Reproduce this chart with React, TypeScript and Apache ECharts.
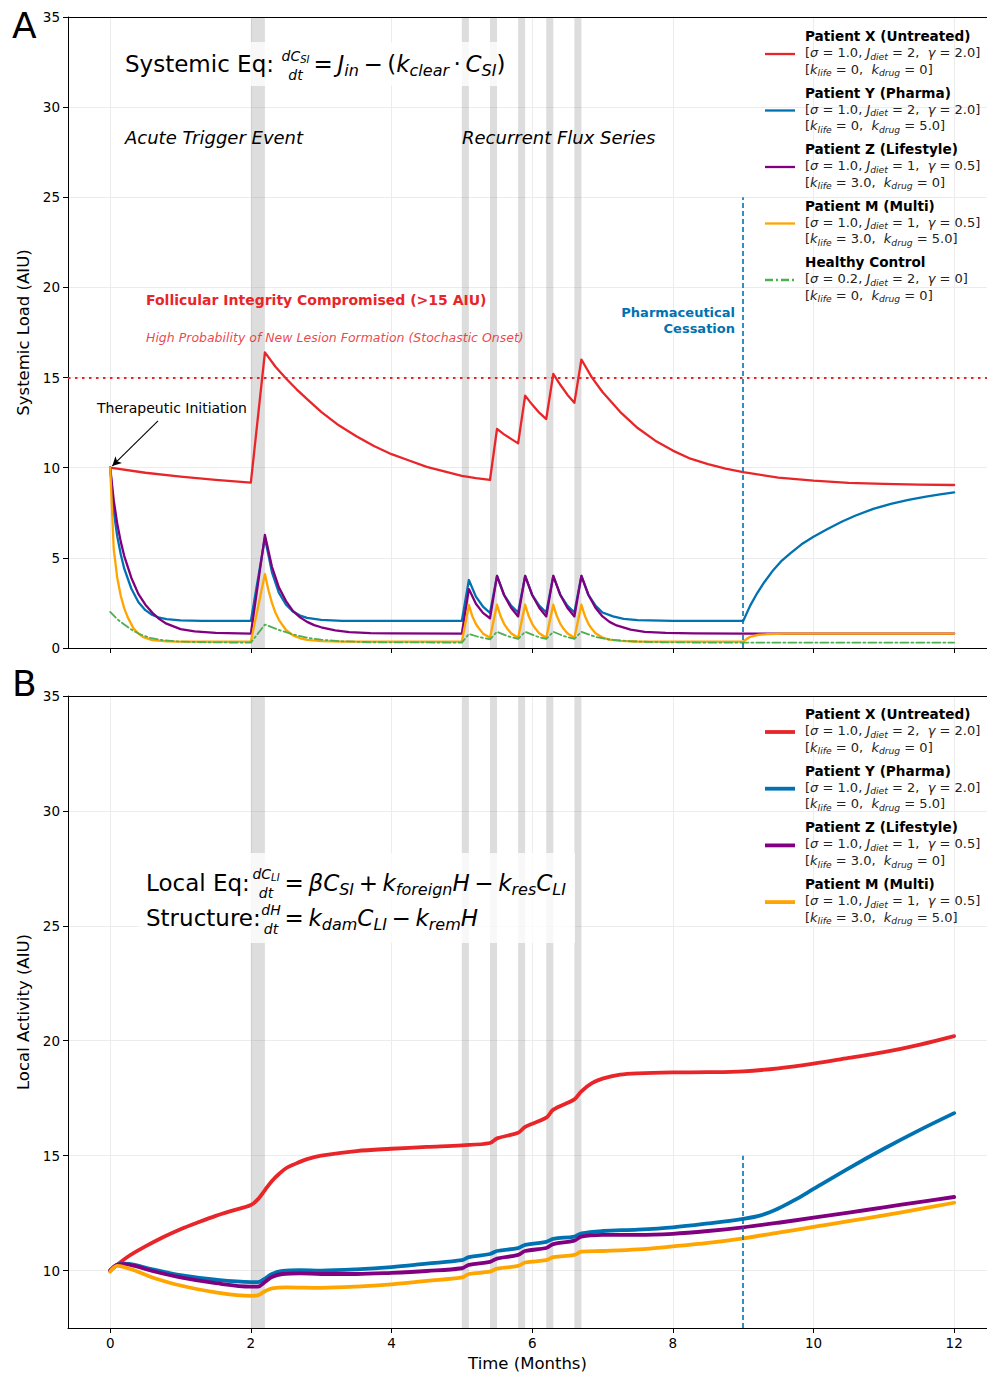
import React, { useEffect, useRef } from 'react';
import * as echarts from 'echarts';

const FONT = 'DejaVu Sans';
const TS = '\u2009';

// ---- axes / annotations ----
const xMin = -0.6;
const xMax = 12.467;
const xTicks = [0, 2, 4, 6, 8, 10, 12];
const yTicksTop = [0, 5, 10, 15, 20, 25, 30, 35];
const yTicksBottom = [10, 15, 20, 25, 30, 35];
const bands: [number, number][] = [[2.0, 2.2], [5.0, 5.1], [5.4, 5.5], [5.8, 5.9], [6.2, 6.3], [6.6, 6.7]];
const threshold = 15;
const cessationT = 9;

// ---- colours ----
const cRed = '#e8262a';
const cBlue = '#0072b2';
const cPurple = '#800080';
const cOrange = '#ffa500';
const cGreen = '#4caf50';

// ---- Panel A: systemic load ----
const sysX: [number, number][] = [
  [0, 10], [0.5, 9.72], [1, 9.5], [1.5, 9.32], [2, 9.17],
  [2.2, 16.4], [2.35, 15.6], [2.5, 14.95], [2.65, 14.35], [2.8, 13.8], [3.0, 13.1], [3.25, 12.35], [3.5, 11.75],
  [3.75, 11.2], [4.0, 10.75], [4.25, 10.4], [4.5, 10.05], [4.75, 9.8], [5.0, 9.55], [5.2, 9.42], [5.4, 9.32],
  [5.5, 12.15], [5.6, 11.85], [5.7, 11.6], [5.8, 11.35],
  [5.9, 14.0], [6.0, 13.5], [6.1, 13.05], [6.2, 12.7],
  [6.3, 15.2], [6.4, 14.6], [6.5, 14.05], [6.6, 13.6],
  [6.7, 16.0], [6.85, 15.0], [7.0, 14.2], [7.25, 13.1], [7.5, 12.2], [7.75, 11.5], [8.0, 10.95], [8.25, 10.5],
  [8.5, 10.2], [8.75, 9.95], [9.0, 9.75], [9.5, 9.45], [10, 9.28], [10.5, 9.16], [11, 9.1], [11.5, 9.06], [12, 9.04],
];
const sysY: [number, number][] = [
  [0, 10], [0.05, 7.6], [0.1, 6.2], [0.15, 5.2], [0.2, 4.4], [0.3, 3.3], [0.4, 2.55], [0.5, 2.1], [0.6, 1.83],
  [0.7, 1.68], [0.8, 1.6], [1, 1.53], [1.3, 1.5], [2, 1.5],
  [2.2, 6.1], [2.3, 4.2], [2.4, 3.05], [2.5, 2.4], [2.6, 2.02], [2.7, 1.8], [2.8, 1.67], [3.0, 1.56], [3.3, 1.51], [5.0, 1.5],
  [5.1, 3.77], [5.2, 2.85], [5.3, 2.3], [5.4, 1.95],
  [5.5, 4.0], [5.6, 2.95], [5.7, 2.35], [5.8, 1.97],
  [5.9, 4.0], [6.0, 2.95], [6.1, 2.35], [6.2, 1.97],
  [6.3, 4.0], [6.4, 2.95], [6.5, 2.35], [6.6, 1.97],
  [6.7, 4.0], [6.8, 2.95], [6.9, 2.35], [7.0, 1.97], [7.15, 1.75], [7.3, 1.62], [7.5, 1.55], [8, 1.51], [9, 1.5],
  [9.1, 2.35], [9.2, 3.05], [9.3, 3.65], [9.43, 4.33], [9.55, 4.85], [9.67, 5.25], [9.83, 5.75], [10, 6.17],
  [10.2, 6.6], [10.4, 7.0], [10.6, 7.35], [10.85, 7.72], [11.1, 8.0], [11.35, 8.22], [11.6, 8.4], [11.8, 8.52], [12, 8.63],
];
const sysZ: [number, number][] = [
  [0, 10], [0.05, 8.2], [0.1, 6.9], [0.15, 5.9], [0.2, 5.1], [0.3, 3.9], [0.4, 3.0], [0.5, 2.4], [0.6, 1.95],
  [0.7, 1.6], [0.8, 1.35], [1, 1.05], [1.2, 0.92], [1.5, 0.84], [2, 0.8],
  [2.2, 6.27], [2.3, 4.5], [2.4, 3.35], [2.5, 2.6], [2.6, 2.05], [2.7, 1.7], [2.8, 1.45], [2.9, 1.27], [3.0, 1.15],
  [3.2, 0.98], [3.4, 0.88], [3.7, 0.83], [4.0, 0.81], [5.0, 0.8],
  [5.1, 3.27], [5.2, 2.45], [5.3, 1.95], [5.4, 1.65],
  [5.5, 4.0], [5.6, 2.94], [5.7, 2.23], [5.8, 1.75],
  [5.9, 4.0], [6.0, 2.94], [6.1, 2.23], [6.2, 1.75],
  [6.3, 4.0], [6.4, 2.94], [6.5, 2.23], [6.6, 1.75],
  [6.7, 4.0], [6.8, 2.94], [6.9, 2.23], [7.0, 1.75], [7.1, 1.45], [7.2, 1.25], [7.4, 1.02], [7.6, 0.9],
  [7.9, 0.84], [8.3, 0.81], [9, 0.8], [12, 0.8],
];
const sysM: [number, number][] = [
  [0, 10], [0.05, 5.5], [0.1, 3.9], [0.15, 2.9], [0.2, 2.2], [0.25, 1.7], [0.33, 1.1], [0.4, 0.8], [0.47, 0.6],
  [0.6, 0.44], [0.8, 0.37], [1, 0.35], [2, 0.35],
  [2.2, 4.1], [2.25, 3.2], [2.3, 2.5], [2.35, 1.95], [2.4, 1.55], [2.5, 1.0], [2.6, 0.7], [2.7, 0.54], [2.8, 0.45],
  [3.0, 0.38], [3.3, 0.35], [5.0, 0.35],
  [5.1, 2.38], [5.15, 1.75], [5.2, 1.33], [5.25, 1.05], [5.3, 0.81], [5.4, 0.57],
  [5.5, 2.4], [5.55, 1.77], [5.6, 1.34], [5.65, 1.05], [5.7, 0.82], [5.8, 0.57],
  [5.9, 2.4], [5.95, 1.77], [6.0, 1.34], [6.05, 1.05], [6.1, 0.82], [6.2, 0.57],
  [6.3, 2.4], [6.35, 1.77], [6.4, 1.34], [6.45, 1.05], [6.5, 0.82], [6.6, 0.57],
  [6.7, 2.4], [6.75, 1.77], [6.8, 1.34], [6.85, 1.05], [6.9, 0.82], [7.0, 0.58], [7.1, 0.47], [7.25, 0.4],
  [7.5, 0.36], [8, 0.35], [9, 0.35], [9.05, 0.5], [9.1, 0.62], [9.2, 0.72], [9.35, 0.77], [9.6, 0.8], [12, 0.8],
];
const sysH: [number, number][] = [
  [0, 2.0], [0.1, 1.6], [0.2, 1.3], [0.33, 0.95], [0.45, 0.72], [0.57, 0.56], [0.75, 0.43], [1.0, 0.35], [1.5, 0.31],
  [2.0, 0.3], [2.2, 1.3], [2.4, 1.0], [2.6, 0.75], [2.8, 0.57], [3.0, 0.46], [3.3, 0.37], [3.7, 0.32], [5.0, 0.3],
  [5.1, 0.78], [5.25, 0.6], [5.4, 0.48], [5.5, 0.9], [5.65, 0.66], [5.8, 0.5], [5.9, 0.9], [6.05, 0.66], [6.2, 0.5],
  [6.3, 0.9], [6.45, 0.66], [6.6, 0.5], [6.7, 0.9], [6.9, 0.62], [7.1, 0.47], [7.4, 0.37], [7.8, 0.32], [8.5, 0.3], [12, 0.3],
];

// ---- Panel B: local activity ----
const locX: [number, number][] = [
  [0, 10.0], [0.25, 10.6], [0.5, 11.05], [0.75, 11.45], [1, 11.8], [1.25, 12.1], [1.5, 12.38], [1.75, 12.62], [2, 12.85],
  [2.1, 13.1], [2.2, 13.5], [2.3, 13.9], [2.4, 14.2], [2.5, 14.45], [2.6, 14.6], [2.8, 14.85], [3, 15.0], [3.5, 15.2],
  [4, 15.3], [4.5, 15.38], [5, 15.45], [5.4, 15.55], [5.5, 15.75], [5.8, 16.0], [5.9, 16.25], [6.2, 16.65], [6.3, 17.0],
  [6.6, 17.45], [6.7, 17.8], [6.85, 18.15], [7, 18.35], [7.25, 18.52], [7.5, 18.58], [8, 18.62], [8.5, 18.63], [9, 18.67],
  [9.5, 18.8], [10, 19.0], [10.5, 19.25], [11, 19.5], [11.5, 19.82], [12, 20.2],
];
const locY: [number, number][] = [
  [0, 10.0], [0.1, 10.25], [0.2, 10.3], [0.35, 10.25], [0.6, 10.05], [1, 9.8], [1.5, 9.6], [2, 9.5], [2.1, 9.5],
  [2.2, 9.65], [2.3, 9.85], [2.45, 9.98], [2.7, 10.02], [3, 10.0], [3.5, 10.05], [4, 10.15], [4.5, 10.3], [5, 10.45],
  [5.1, 10.58], [5.4, 10.72], [5.5, 10.85], [5.8, 10.98], [5.9, 11.12], [6.2, 11.25], [6.3, 11.38], [6.6, 11.48],
  [6.7, 11.62], [7, 11.72], [7.5, 11.78], [8, 11.88], [8.5, 12.05], [9, 12.25], [9.25, 12.4], [9.5, 12.7], [9.75, 13.1],
  [10, 13.55], [10.5, 14.45], [11, 15.3], [11.5, 16.1], [12, 16.85],
];
const locZ: [number, number][] = [
  [0, 10.0], [0.1, 10.25], [0.2, 10.28], [0.35, 10.2], [0.6, 9.98], [1, 9.7], [1.5, 9.45], [2, 9.3], [2.1, 9.3],
  [2.2, 9.5], [2.3, 9.72], [2.45, 9.85], [2.7, 9.88], [3, 9.85], [3.5, 9.85], [4, 9.9], [4.5, 9.98], [5, 10.1],
  [5.1, 10.25], [5.4, 10.38], [5.5, 10.52], [5.8, 10.68], [5.9, 10.85], [6.2, 10.98], [6.3, 11.15], [6.6, 11.3],
  [6.7, 11.48], [7, 11.55], [7.5, 11.55], [8, 11.6], [8.5, 11.72], [9, 11.88], [9.5, 12.08], [10, 12.3], [10.5, 12.52],
  [11, 12.75], [11.5, 12.98], [12, 13.2],
];
const locM: [number, number][] = [
  [0, 9.95], [0.1, 10.2], [0.2, 10.15], [0.35, 10.0], [0.6, 9.7], [1, 9.35], [1.5, 9.05], [2, 8.9], [2.1, 8.92],
  [2.2, 9.1], [2.3, 9.22], [2.5, 9.27], [3, 9.25], [3.5, 9.3], [4, 9.4], [4.5, 9.55], [5, 9.7], [5.1, 9.85], [5.4, 9.95],
  [5.5, 10.08], [5.8, 10.2], [5.9, 10.35], [6.2, 10.45], [6.3, 10.58], [6.6, 10.68], [6.7, 10.82], [7, 10.85],
  [7.5, 10.92], [8, 11.05], [8.5, 11.2], [9, 11.4], [9.5, 11.65], [10, 11.9], [10.5, 12.15], [11, 12.4], [11.5, 12.67], [12, 12.95],
];

// ---- legend ----
const legendNames = ['Patient X (Untreated)', 'Patient Y (Pharma)', 'Patient Z (Lifestyle)', 'Patient M (Multi)', 'Healthy Control'];
const legendSigma = ['1.0', '1.0', '1.0', '1.0', '0.2'];
const legendJdiet = ['2', '2', '1', '1', '2'];
const legendGamma = ['2.0', '2.0', '0.5', '0.5', '0'];
const legendKlife = ['0', '0', '3.0', '3.0', '0'];
const legendKdrug = ['0', '5.0', '0', '5.0', '0'];
const legendColors = [cRed, cBlue, cPurple, cOrange, cGreen];

const legRich = {
  b: { fontFamily: FONT, fontWeight: 'bold', fontSize: 13.6, lineHeight: 16.5, fill: '#000' },
  n: { fontFamily: FONT, fontSize: 13, lineHeight: 16.5, fill: '#222' },
  i: { fontFamily: FONT, fontStyle: 'italic', fontSize: 13, lineHeight: 16.5, fill: '#222' },
  s: { fontFamily: FONT, fontStyle: 'italic', fontSize: 9.2, lineHeight: 9, verticalAlign: 'bottom', fill: '#222' },
};

const eqRich = {
  n: { fontFamily: FONT, fontSize: 23, lineHeight: 28, fill: '#000' },
  i: { fontFamily: FONT, fontStyle: 'italic', fontSize: 23, lineHeight: 28, fill: '#000' },
  s: { fontFamily: FONT, fontStyle: 'italic', fontSize: 16, lineHeight: 14, verticalAlign: 'bottom', fill: '#000' },
};
const fracRich = {
  i: { fontFamily: FONT, fontStyle: 'italic', fontSize: 14, lineHeight: 17, fill: '#000' },
  s: { fontFamily: FONT, fontStyle: 'italic', fontSize: 10, lineHeight: 9, verticalAlign: 'bottom', fill: '#000' },
};

function legendGraphics(firstY: number, step: number, count: number, lw: number) {
  const els: any[] = [];
  for (let k = 0; k < count; k++) {
    const yc = firstY + step * k;
    const dash = k === 4 ? [8, 3, 2, 3] : undefined;
    els.push({
      type: 'line', z: 60,
      shape: { x1: 765, y1: yc + 18, x2: 795, y2: yc + 18 },
      style: { stroke: legendColors[k], lineWidth: lw, lineDash: dash },
    });
    const txt =
      `{b|${legendNames[k]}}\n` +
      `{n|[}{i|σ}{n| = ${legendSigma[k]}, }{i|J}{s|diet}{n| = ${legendJdiet[k]},  }{i|γ}{n| = ${legendGamma[k]}]}\n` +
      `{n|[}{i|k}{s|life}{n| = ${legendKlife[k]},  }{i|k}{s|drug}{n| = ${legendKdrug[k]}]}`;
    els.push({
      type: 'text', z: 60, x: 805, y: yc - 8.25,
      style: { text: txt, rich: legRich, align: 'left', verticalAlign: 'top' },
    });
  }
  return els;
}

function txt(x: number, y: number, text: string, extra: any) {
  return {
    type: 'text', z: 60, x, y,
    style: { text, fontFamily: FONT, fill: '#000', align: 'left', verticalAlign: 'middle', ...extra },
  };
}

const bandAreas = bands.map(([a, b]) => [{ xAxis: a }, { xAxis: b }]);

function lineSeries(data: [number, number][], color: string, idx: number, width: number, smooth: boolean, dash?: any) {
  return {
    type: 'line', data, xAxisIndex: idx, yAxisIndex: idx, showSymbol: false, symbol: 'none', silent: true,
    smooth: smooth ? 0.35 : false,
    lineStyle: { color, width, type: dash || 'solid', cap: 'round', join: 'round' },
    z: 3,
  };
}

function axisCommon() {
  return {
    type: 'value',
    axisLine: { show: true, onZero: false, lineStyle: { color: '#000', width: 1 } },
    axisTick: { show: true, length: 5, lineStyle: { color: '#000', width: 1 } },
    splitLine: { show: true, lineStyle: { color: '#ececec', width: 1 } },
  };
}

const eq = (a: string) => `{n|${TS}=${TS}}` + a;

export default function App() {
  const ref = useRef<HTMLDivElement>(null);
  useEffect(() => {
    if (!ref.current) return;
    const chart = echarts.init(ref.current, null, { renderer: 'svg' });
    const labelStyle = { fontSize: 13.5, color: '#000', margin: 8, fontFamily: FONT };
    const nameStyle = { fontSize: 16.5, color: '#000', fontFamily: FONT };
    const option: any = {
      animation: false,
      backgroundColor: '#fff',
      textStyle: { fontFamily: FONT },
      grid: [
        { left: 68, top: 17, right: 0, height: 631, show: false },
        { left: 68, top: 696, right: 0, height: 632, show: false },
      ],
      xAxis: [
        {
          ...axisCommon(), gridIndex: 0, min: xMin, max: xMax,
          axisTick: { show: true, length: 5, customValues: xTicks, lineStyle: { color: '#000' } },
          axisLabel: { show: false, customValues: xTicks },
        },
        {
          ...axisCommon(), gridIndex: 1, min: xMin, max: xMax,
          axisTick: { show: true, length: 5, customValues: xTicks, lineStyle: { color: '#000' } },
          axisLabel: { show: true, customValues: xTicks, ...labelStyle },
          name: 'Time (Months)', nameLocation: 'middle', nameGap: 27, nameTextStyle: nameStyle,
        },
      ],
      yAxis: [
        {
          ...axisCommon(), gridIndex: 0, min: 0, max: 35,
          axisTick: { show: true, length: 5, customValues: yTicksTop, lineStyle: { color: '#000' } },
          axisLabel: { show: true, customValues: yTicksTop, ...labelStyle },
          name: 'Systemic Load (AIU)', nameLocation: 'middle', nameGap: 34, nameTextStyle: nameStyle,
        },
        {
          ...axisCommon(), gridIndex: 1, min: 7.5, max: 35,
          axisTick: { show: true, length: 5, customValues: yTicksBottom, lineStyle: { color: '#000' } },
          axisLabel: { show: true, customValues: yTicksBottom, ...labelStyle },
          name: 'Local Activity (AIU)', nameLocation: 'middle', nameGap: 34, nameTextStyle: nameStyle,
        },
      ],
      series: [
        {
          type: 'line', data: [], xAxisIndex: 0, yAxisIndex: 0, silent: true, z: 1,
          markArea: { silent: true, itemStyle: { color: 'rgba(128,128,128,0.27)' }, data: bandAreas },
          markLine: {
            silent: true, symbol: 'none', label: { show: false },
            data: [
              { yAxis: threshold, lineStyle: { color: cRed, type: [2.5, 4.5], width: 2.2 } },
              [{ coord: [cessationT, 0], lineStyle: { color: cBlue, type: [5, 3], width: 1.6 } }, { coord: [cessationT, 25] }],
              [{ coord: [0.68, 12.6], symbol: 'none', lineStyle: { color: '#000', type: 'solid', width: 1.1 } },
               { coord: [0.03, 10.1], symbol: 'arrow', symbolSize: [7, 9] }],
            ],
          },
        },
        {
          type: 'line', data: [], xAxisIndex: 1, yAxisIndex: 1, silent: true, z: 1,
          markArea: { silent: true, itemStyle: { color: 'rgba(128,128,128,0.27)' }, data: bandAreas },
          markLine: {
            silent: true, symbol: 'none', label: { show: false },
            data: [
              [{ coord: [cessationT, 7.5], lineStyle: { color: cBlue, type: [5, 3], width: 1.6 } }, { coord: [cessationT, 15] }],
            ],
          },
        },
        lineSeries(sysX, cRed, 0, 2.3, false),
        lineSeries(sysY, cBlue, 0, 2.3, false),
        lineSeries(sysZ, cPurple, 0, 2.3, false),
        lineSeries(sysM, cOrange, 0, 2.3, false),
        lineSeries(sysH, cGreen, 0, 1.8, false, [8, 3, 2, 3]),
        lineSeries(locX, cRed, 1, 3.8, true),
        lineSeries(locY, cBlue, 1, 3.8, true),
        lineSeries(locZ, cPurple, 1, 3.8, true),
        lineSeries(locM, cOrange, 1, 3.8, true),
      ],
      graphic: [
        // top spines of both panels
        { type: 'line', z: 40, shape: { x1: 68, y1: 17.5, x2: 987, y2: 17.5 }, style: { stroke: '#000', lineWidth: 1 } },
        { type: 'line', z: 40, shape: { x1: 68, y1: 696.5, x2: 987, y2: 696.5 }, style: { stroke: '#000', lineWidth: 1 } },
        txt(12, 25, 'A', { fontSize: 36 }),
        txt(12, 683, 'B', { fontSize: 36 }),
        // Systemic equation box
        { type: 'rect', z: 50, shape: { x: 118, y: 42, width: 390, height: 44 }, style: { fill: 'rgba(255,255,255,0.8)' } },
        txt(125, 64, 'Systemic Eq:', { fontSize: 23 }),
        { type: 'text', z: 60, x: 295.5, y: 56, style: { text: '{i|dC}{s|SI}', rich: fracRich, align: 'center', verticalAlign: 'middle' } },
        { type: 'text', z: 60, x: 295.5, y: 75, style: { text: '{i|dt}', rich: fracRich, align: 'center', verticalAlign: 'middle' } },
        { type: 'text', z: 60, x: 309, y: 64, style: { text: eq(`{i|J}{s|in}{n|${TS}−${TS}(}{i|k}{s|clear}{n|${TS}·${TS}}{i|C}{s|SI}{n|)}`), rich: eqRich, align: 'left', verticalAlign: 'middle' } },
        txt(125, 137, 'Acute Trigger Event', { fontSize: 18, fontStyle: 'italic' }),
        txt(462, 137, 'Recurrent Flux Series', { fontSize: 18, fontStyle: 'italic' }),
        txt(146, 300, 'Follicular Integrity Compromised (>15 AIU)', { fontSize: 14, fontWeight: 'bold', fill: cRed }),
        txt(146, 337, 'High Probability of New Lesion Formation (Stochastic Onset)', { fontSize: 12.5, fontStyle: 'italic', fill: cRed, opacity: 0.85 }),
        txt(735, 320, 'Pharmaceutical\nCessation', { fontSize: 13, fontWeight: 'bold', fill: cBlue, align: 'right', lineHeight: 16 }),
        txt(97, 408, 'Therapeutic Initiation', { fontSize: 14 }),
        // Local equations box
        { type: 'rect', z: 50, shape: { x: 138, y: 853, width: 437, height: 90 }, style: { fill: 'rgba(255,255,255,0.8)' } },
        txt(146, 883, 'Local Eq:', { fontSize: 23 }),
        { type: 'text', z: 60, x: 266, y: 874, style: { text: '{i|dC}{s|LI}', rich: fracRich, align: 'center', verticalAlign: 'middle' } },
        { type: 'text', z: 60, x: 266, y: 893, style: { text: '{i|dt}', rich: fracRich, align: 'center', verticalAlign: 'middle' } },
        { type: 'text', z: 60, x: 280, y: 883, style: { text: eq(`{i|βC}{s|SI}{n|${TS}+${TS}}{i|k}{s|foreign}{i|H}{n|${TS}−${TS}}{i|k}{s|res}{i|C}{s|LI}`), rich: eqRich, align: 'left', verticalAlign: 'middle' } },
        txt(146, 918, 'Structure:', { fontSize: 23 }),
        { type: 'text', z: 60, x: 271, y: 910, style: { text: '{i|dH}', rich: fracRich, align: 'center', verticalAlign: 'middle' } },
        { type: 'text', z: 60, x: 271, y: 929, style: { text: '{i|dt}', rich: fracRich, align: 'center', verticalAlign: 'middle' } },
        { type: 'text', z: 60, x: 280, y: 918, style: { text: eq(`{i|k}{s|dam}{i|C}{s|LI}{n|${TS}−${TS}}{i|k}{s|rem}{i|H}`), rich: eqRich, align: 'left', verticalAlign: 'middle' } },
        ...legendGraphics(36, 56.5, 5, 2.3),
        ...legendGraphics(714, 56.7, 4, 3.8),
      ],
    };
    chart.setOption(option);
    return () => chart.dispose();
  }, []);
  return <div ref={ref} style={{ position: 'absolute', left: 0, top: 0, width: 987, height: 1373 }} />;
}
